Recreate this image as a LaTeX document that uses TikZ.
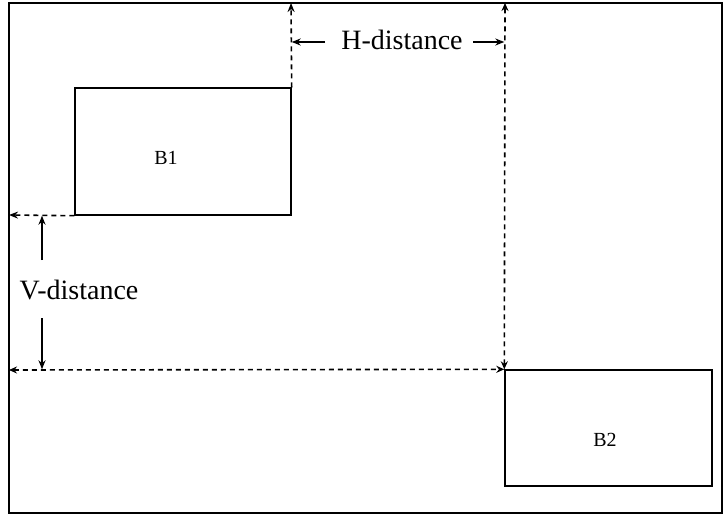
\documentclass[tikz,border=0pt]{standalone}
\usepackage{fontspec}
\setmainfont{Liberation Serif}
\usetikzlibrary{arrows.meta}

\begin{document}
\begin{tikzpicture}[x=0.5pt, y=-0.5pt]
\tikzstyle{box} = [draw=black, line width=0.7pt, inner sep=0pt]
\tikzstyle{boxlabel} = [inner sep=0pt, font=\fontsize{10}{12}\selectfont]
\tikzstyle{guide} = [draw=black, line width=0.8pt, dash pattern=on 2.5pt off 2pt]
\tikzstyle{tip} = [-{Stealth[length=4.5pt, width=3.5pt]}]
\tikzstyle{otip} = [{Stealth[open, length=4pt, width=3.5pt]}-{Stealth[open, length=4pt, width=3.5pt]}]
\tikzstyle{dist} = [inner sep=2pt, font=\fontsize{14}{16}\selectfont]

\useasboundingbox (0,0) rectangle (727,518);
\draw[line width=0.9pt] (9,3) rectangle (722,513);

\node[box, minimum width=108pt, minimum height=63.5pt] (B1) at (183,151.5) {};
\node[box, minimum width=103.5pt, minimum height=58pt] (B2) at (608.5,428) {};
\node[boxlabel] (b1) at (166,158) {B1};
\node[boxlabel] (b2) at (605,440) {B2};

\coordinate (T1) at (291,3);
\coordinate (T2) at (505,3);
\coordinate (L1) at (9,215);
\coordinate (L2) at (9,370);

\node[dist] (hd) at (402,40) {H-distance};
\node[dist] (vd) at (79,290) {V-distance};

\coordinate (ha) at (325,42);
\coordinate (hb) at (473,42);
\coordinate (va) at (42,260);
\coordinate (vb) at (42,318);

\draw[guide, tip] (B1.north east) -- (T1);
\draw[guide, otip] (B2.north west) -- (T2);
\draw[guide, tip] (B1.south west) -- (L1);
\draw[guide, otip] (L2) -- (B2.north west);

\draw[line width=0.7pt, tip] (ha) -- (ha -| B1.north east);
\draw[line width=0.7pt, tip] (hb) -- (hb -| B2.north west);
\draw[line width=0.7pt, tip] (va) -- (va |- B1.south west);
\draw[line width=0.7pt, tip] (vb) -- (vb |- B2.north west);
\end{tikzpicture}
\end{document}
